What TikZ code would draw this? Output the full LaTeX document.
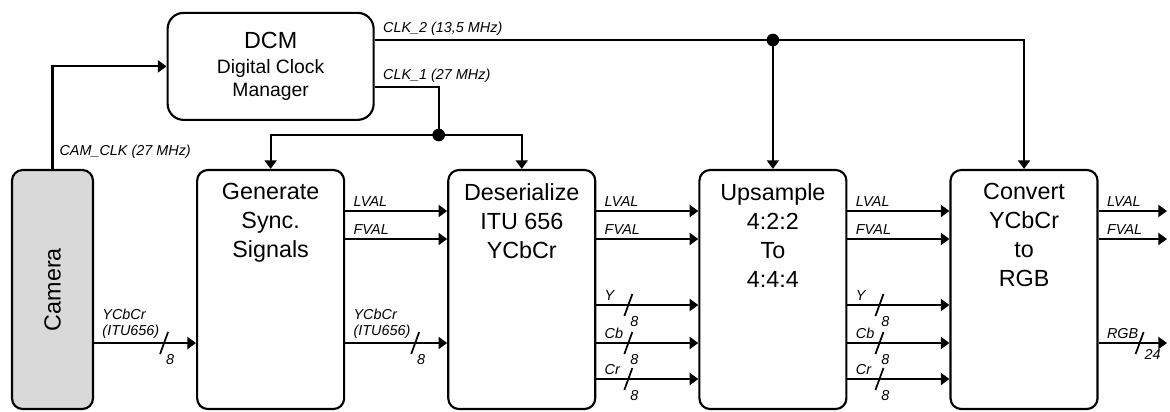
\documentclass[tikz,border=0pt]{standalone}
\usepackage{fontspec}
\setmainfont{Liberation Sans}
\usetikzlibrary{arrows.meta,positioning,calc}
\definecolor{CamGray}{HTML}{D9D9D9}

% bus width mark: name, point, width, offset of the width text
\newcommand{\busmark}[4]{%
  \draw[slash] ($(#2)+(-4,11)$) -- ($(#2)+(4,-11)$);
  \node[buslbl] (#1) at ($(#2)+(#4)$) {#3};
}

\begin{document}
\begin{tikzpicture}[
  x=0.75pt, y=-0.75pt,
  block/.style={draw, rounded corners=8pt, line width=1.6pt, minimum width=110.25pt,
    minimum height=179.25pt, inner sep=0pt},
  blocktxt/.style={anchor=north, align=center, inner sep=0pt, yshift=-10.5pt,
    font=\fontsize{17.5}{21.75}\selectfont},
  sig/.style={line width=1.6pt, -{Triangle[length=6.5pt,width=9pt]}},
  wire/.style={line width=1.6pt},
  lbl/.style={font=\fontsize{10.8}{12}\selectfont\itshape, inner sep=2.5pt,
    anchor=south west, xshift=3pt, align=left},
  buslbl/.style={font=\fontsize{10.8}{12}\selectfont\itshape, inner sep=0pt},
  slash/.style={line width=1.3pt},
  dot/.style={circle, fill, inner sep=0pt, minimum size=9.5pt},
  node distance=76.5pt
]
\useasboundingbox (0,0) rectangle (1170,411);

% processing blocks
\node[block, fill=CamGray, minimum width=60.75pt,
  label={[font=\fontsize{17.5}{21}\selectfont, rotate=90]center:Camera}] (cam) at (52.5,289.5) {};
\node[block, right=of cam, label={[blocktxt]north:{Generate\\Sync.\\Signals}}] (gen) {};
\node[block, right=of gen, label={[blocktxt]north:{Deserialize\\ITU 656\\YCbCr}}] (des) {};
\node[block, right=of des, label={[blocktxt]north:{Upsample\\4:2:2\\To\\4:4:4}}] (ups) {};
\node[block, right=of ups, label={[blocktxt]north:{Convert\\YCbCr\\to\\RGB}}] (conv) {};

\node[draw, rounded corners=12pt, line width=1.6pt, minimum width=154.5pt,
  minimum height=80.25pt, align=center, font=\fontsize{14.5}{17.25}\selectfont,
  above=36pt of gen] (dcm)
  {{\fontsize{17.5}{18}\selectfont DCM}\\[1pt]Digital Clock\\Manager};

% rows and clock taps
\coordinate (rowL) at (0,211);
\coordinate (rowF) at (0,239);
\coordinate (rowY) at (0,305);
\coordinate (rowD) at (0,343);
\coordinate (rowCr) at (0,379);
\coordinate (clk2) at (0,40);
\coordinate (clk1) at (0,87);
\coordinate (outx) at (1167,0);
\coordinate (j1) at ($(dcm.east |- 0,135)+(64,0)$);
\coordinate (j2) at (ups.north |- clk2);

% clocks
\draw[sig] (cam.north) |- (dcm.west)
  node[lbl, pos=0, xshift=-1pt, yshift=4.5pt] {CAM\_CLK (27 MHz)};
\draw[sig] (dcm.east |- clk2) -| (conv.north) node[lbl, pos=0] {CLK\_2 (13,5 MHz)};
\draw[sig] (j2) -- (ups.north);
\node[dot] (d2) at (j2) {};
\draw[wire] (dcm.east |- clk1) -| (j1) node[lbl, pos=0] {CLK\_1 (27 MHz)};
\draw[sig] (j1) -| (gen.north);
\draw[sig] (j1) -| (des.north);
\node[dot] (d1) at (j1) {};

% video data
\draw[sig] (cam.east |- rowD) -- (gen.west |- rowD) node[lbl, pos=0] {YCbCr\\(ITU656)};
\coordinate (mcam) at ($(cam.east |- rowD)+(70,0)$);
\busmark{wcam}{mcam}{8}{6,17}
\draw[sig] (gen.east |- rowD) -- (des.west |- rowD) node[lbl, pos=0] {YCbCr\\(ITU656)};
\coordinate (mgen) at ($(gen.east |- rowD)+(70,0)$);
\busmark{wgen}{mgen}{8}{6,17}

% sync signals
\foreach \a/\b in {gen/des, des/ups, ups/conv}
  \foreach \r/\t in {rowL/LVAL, rowF/FVAL}
    \draw[sig] (\a.east |- \r) -- (\b.west |- \r) node[lbl, pos=0] {\t};
\foreach \r/\t in {rowL/LVAL, rowF/FVAL}
  \draw[sig] (conv.east |- \r) -- (outx |- \r) node[lbl, pos=0] {\t};

% component buses
\foreach \a/\b in {des/ups, ups/conv}
  \foreach \r/\t in {rowY/Y, rowD/Cb, rowCr/Cr} {
    \draw[sig] (\a.east |- \r) -- (\b.west |- \r) node[lbl, pos=0] {\t};
    \coordinate (m) at ($(\a.east |- \r)+(32,0)$);
    \busmark{w\a\t}{m}{8}{6,17}
  }
\draw[sig] (conv.east |- rowD) -- (outx |- rowD) node[lbl, pos=0] {RGB};
\coordinate (mrgb) at ($(conv.east |- rowD)+(41,0)$);
\busmark{wrgb}{mrgb}{24}{13,11}

\end{tikzpicture}
\end{document}
